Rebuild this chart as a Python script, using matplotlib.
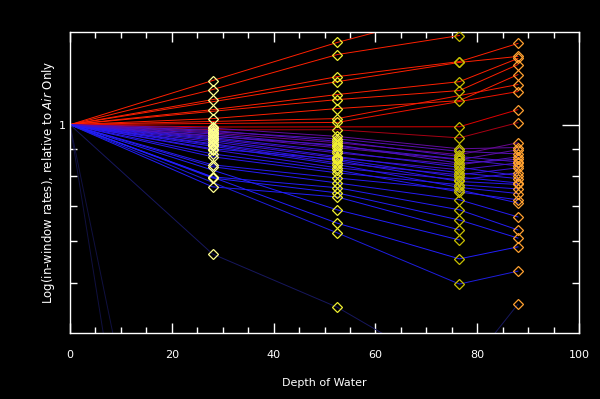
import numpy as np
import matplotlib
matplotlib.use("Agg")
import matplotlib.pyplot as plt
from matplotlib.ticker import FixedLocator, NullFormatter, FixedFormatter

# depths where the rates were measured
depths = [28, 52.5, 76.5, 88]

# rate relative to "air only" at each depth (nan = no measurement)
nan = np.nan
rates = [
    [1.213, 1.433, 1.65, 1.72],
    [1.166, 1.359, 1.477, nan],
    [1.116, 1.234, 1.318, 1.427],
    [nan, 1.207, 1.313, 1.348],
    [1.068, 1.141, 1.207, 1.336],
    [nan, 1.116, 1.161, 1.301],
    [1.027, 1.073, 1.111, 1.245],
    [nan, 1.027, nan, 1.192],
    [nan, 1.010, nan, 1.156],
    [0.990, nan, 0.991, 1.068],
    [0.978, 0.978, 0.944, 1.009],
    [0.965, 0.924, 0.877, 0.924],
    [0.953, 0.904, 0.858, 0.896],
    [0.940, 0.884, 0.839, 0.869],
    [0.928, 0.865, 0.821, 0.846],
    [0.916, 0.846, 0.803, 0.828],
    [0.896, 0.828, 0.786, 0.810],
    [0.869, 0.810, 0.769, 0.755],
    [0.839, 0.792, 0.752, 0.710],
    [0.832, 0.775, 0.720, 0.668],
    [0.796, 0.759, 0.689, 0.631],
    [0.792, 0.742, 0.659, 0.609],
    [0.762, 0.729, 0.631, nan],
    [nan, 0.689, 0.604, nan],
    [nan, 0.650, 0.556, 0.586],
    [nan, 0.623, 0.498, 0.527],
    [0.975, 0.930, 0.870, 0.850],
    [0.960, 0.910, 0.860, 0.835],
    [0.945, 0.890, 0.830, 0.800],
    [0.935, 0.870, 0.810, 0.790],
    [0.920, 0.855, 0.780, 0.770],
    [0.910, 0.840, 0.760, 0.740],
    [0.985, 0.950, 0.900, 0.905],
    [0.970, 0.940, 0.890, 0.880],
    [0.950, 0.915, 0.845, 0.860],
    [0.900, 0.860, 0.795, 0.775],
    [0.880, 0.820, 0.745, 0.720],
    [0.568, 0.450, 0.330, 0.456],
    [0.048, nan, nan, nan],
    [0.020, nan, nan, nan],
]

marker_colors = ['#ffff90', '#f0f030', '#c8c000', '#ffa030']

# colour of a line from its mean log-slope (per 100 units of depth)
stops_t = [-0.5, -0.38, -0.3, -0.12, -0.06, -0.02, 0.0, 0.03, 0.1]
stops_c = ['#101040', '#181860', '#2020ff', '#2a18f0', '#5a10b0',
           '#780070', '#a00018', '#e00000', '#ff2000']
stops_rgb = np.array([matplotlib.colors.to_rgb(c) for c in stops_c])

def line_color(t):
    return [np.interp(t, stops_t, stops_rgb[:, i]) for i in range(3)]

fig = plt.figure(figsize=(6, 3.99), dpi=100, facecolor='black')
ax = fig.add_axes([0.1167, 0.1654, 0.8483, 0.7544], facecolor='black')

for row in rates:
    xs = [0.0]
    ys = [1.0]
    for d, v in zip(depths, row):
        if not np.isnan(v):
            xs.append(d)
            ys.append(v)
    t = np.log10(ys[-1]) / xs[-1] * 100
    ax.plot(xs, ys, color=line_color(t), lw=0.7, zorder=2)

for j, d in enumerate(depths):
    col = [r[j] for r in rates if not np.isnan(r[j])]
    ax.plot([d] * len(col), col, ls='none', marker='D', ms=5.5,
            mfc='none', mec=marker_colors[j], mew=0.9, zorder=3)

ax.set_xlim(0, 100)
ax.set_yscale('log')
ax.set_ylim(0.402, 1.5)

ax.set_xticks([0, 20, 40, 60, 80, 100])
ax.xaxis.set_minor_locator(FixedLocator(np.arange(0, 101, 5)))
ax.yaxis.set_major_locator(FixedLocator([1.0]))
ax.yaxis.set_major_formatter(FixedFormatter(['1']))
ax.yaxis.set_minor_locator(FixedLocator([0.4, 0.5, 0.6, 0.7, 0.8, 0.9]))
ax.yaxis.set_minor_formatter(NullFormatter())

for s in ax.spines.values():
    s.set_color('white')
    s.set_linewidth(1)
ax.tick_params(which='both', direction='in', colors='white', top=True, right=True,
               labelsize=8, width=1)
ax.tick_params(axis='x', which='major', length=7, pad=12)
ax.tick_params(axis='x', which='minor', length=4)
ax.tick_params(axis='y', which='major', length=12, pad=3)
ax.tick_params(axis='y', which='minor', length=5)

ax.set_xlabel('Depth of Water', color='white', fontsize=8, labelpad=13)
ax.set_ylabel(r'Log(in-window rates), relative to $\mathit{Air}$ Only', color='white',
              fontsize=8.5, labelpad=1)

fig.savefig('out.png', dpi=100, facecolor='black')
